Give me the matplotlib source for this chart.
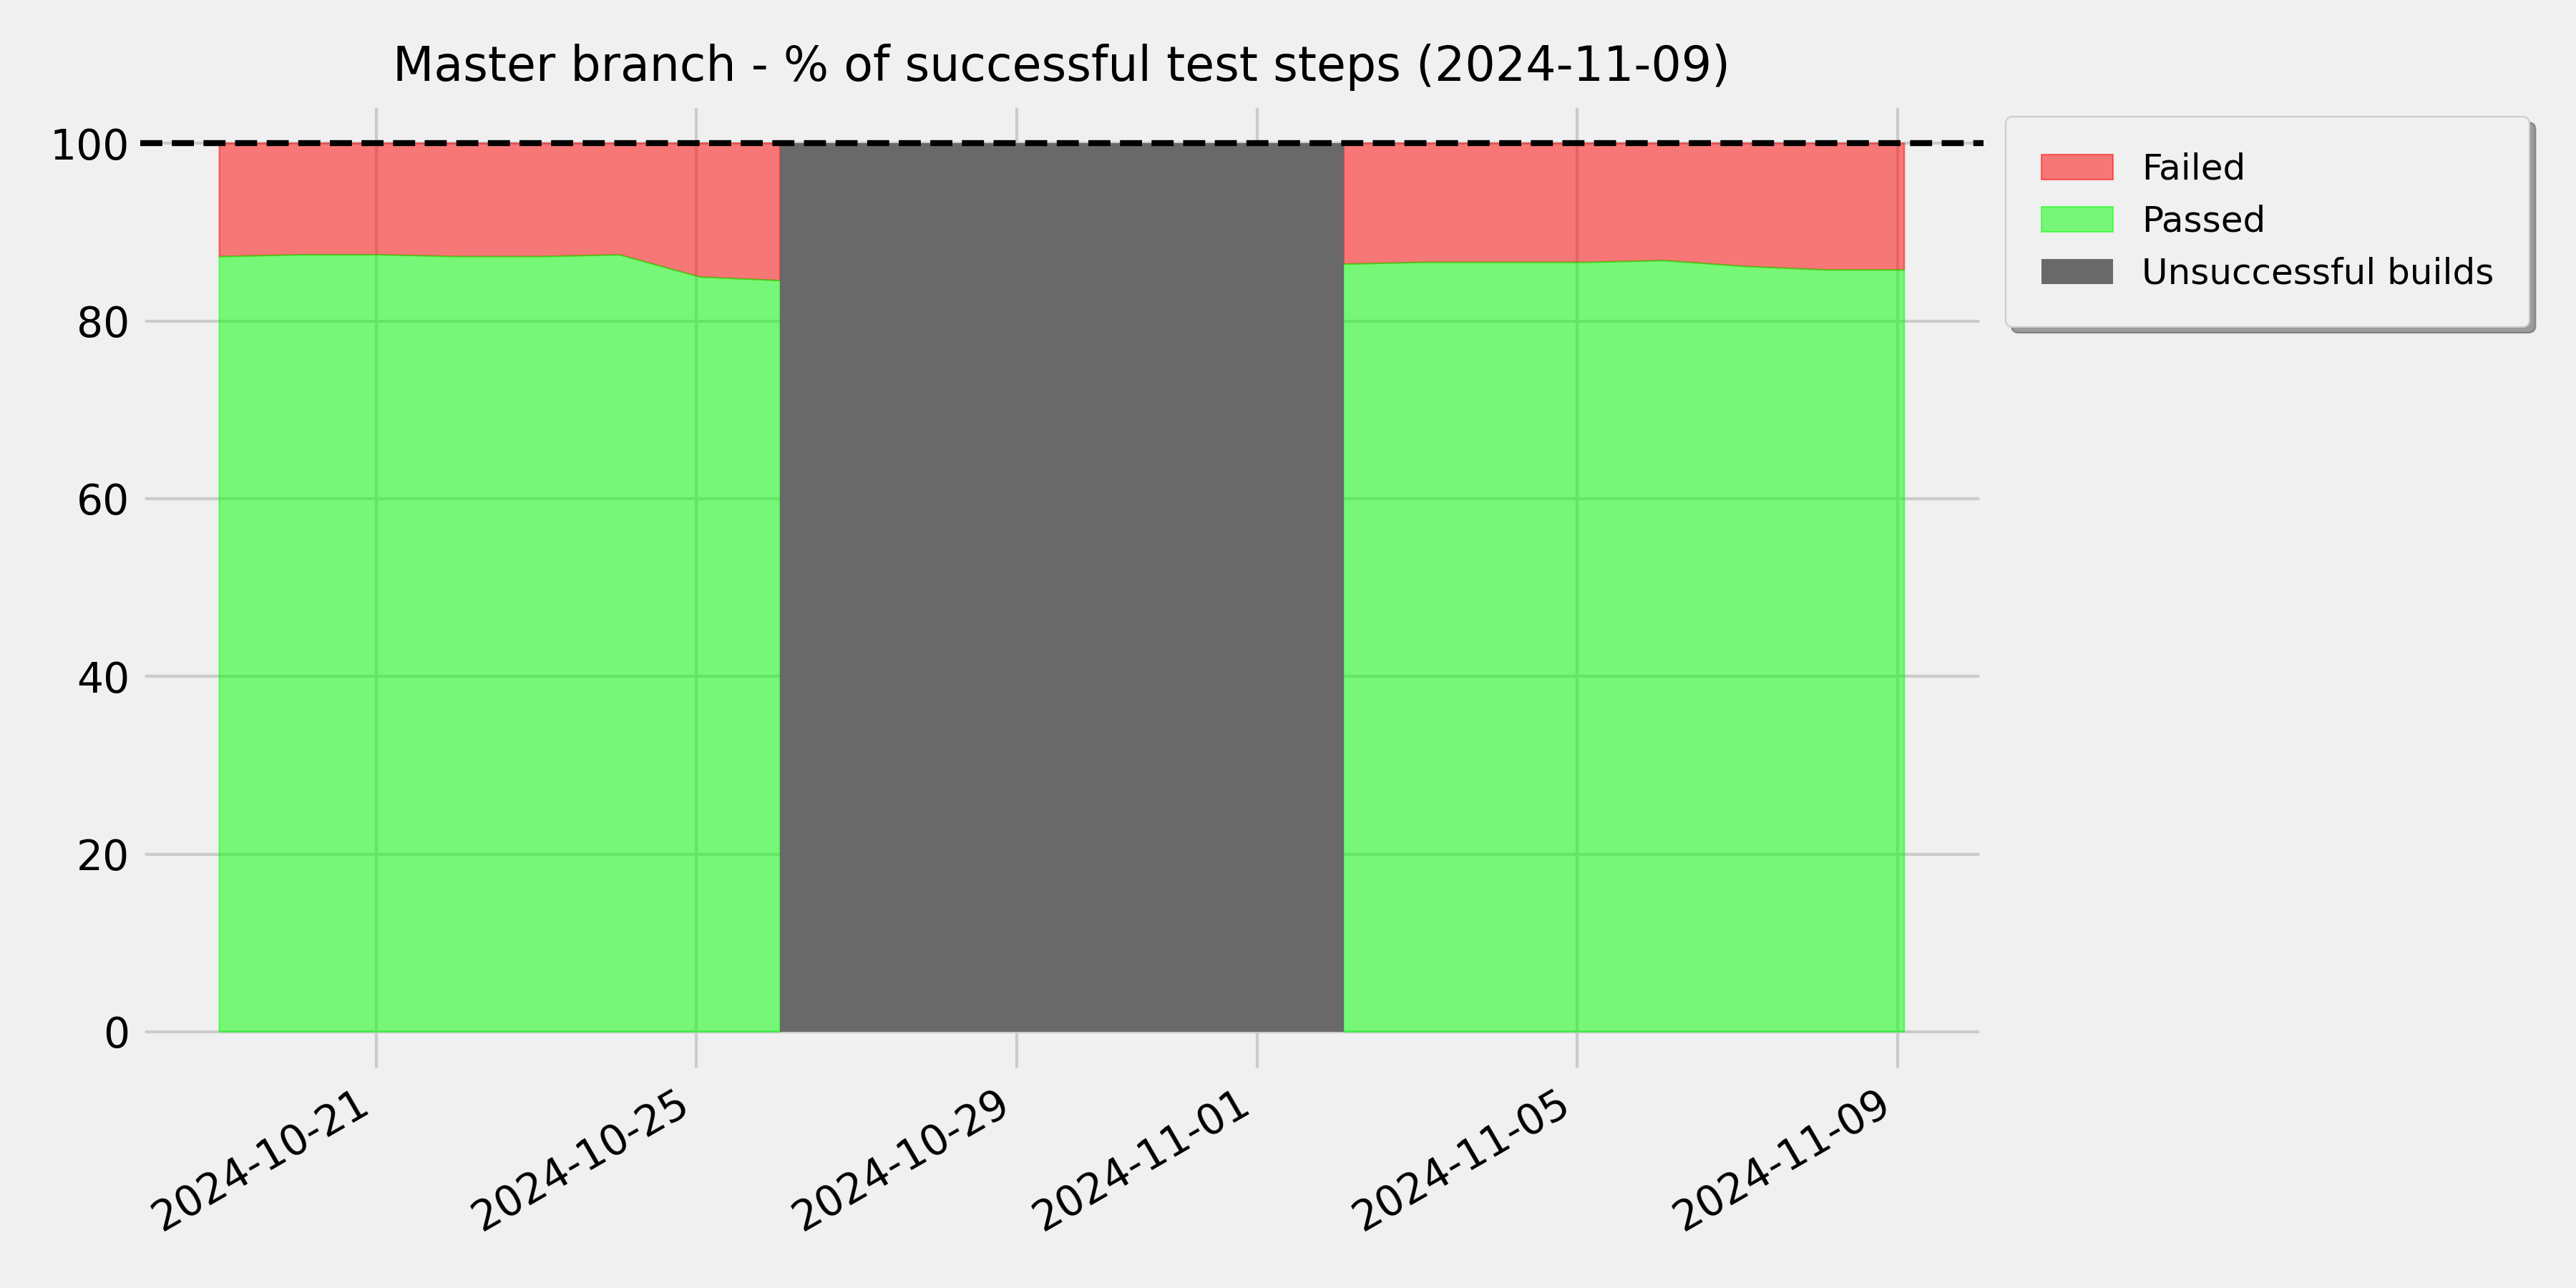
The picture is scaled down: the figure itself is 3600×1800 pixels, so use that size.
import numpy as np
import pandas as pd
import matplotlib
matplotlib.use("Agg")
import matplotlib.pyplot as plt
from matplotlib.patches import Patch

plt.style.use("fivethirtyeight")

# ---- data ----
dates = pd.to_datetime([
    "2024-10-19 01:00", "2024-10-20 01:00", "2024-10-21 01:00", "2024-10-22 01:00",
    "2024-10-23 01:00", "2024-10-24 01:00", "2024-10-25 01:00", "2024-10-26 01:00",
    "2024-10-27 01:00", "2024-10-28 01:00", "2024-10-29 01:00", "2024-10-30 01:00",
    "2024-10-31 01:00", "2024-11-01 02:00",
    "2024-11-02 02:00", "2024-11-03 02:00", "2024-11-04 02:00", "2024-11-05 02:00",
    "2024-11-06 02:00", "2024-11-07 02:00", "2024-11-08 02:00", "2024-11-09 02:00",
])
build_ok = [True, True, True, True, True, True, True, True,
            False, False, False, False, False, False,
            True, True, True, True, True, True, True, True]
passed = [87.25, 87.45, 87.45, 87.25, 87.25, 87.45, 84.95, 84.55,
          np.nan, np.nan, np.nan, np.nan, np.nan, np.nan,
          86.4, 86.6, 86.6, 86.6, 86.8, 86.15, 85.75, 85.75]
total = 100
title = "Master branch - % of successful test steps (2024-11-09)"
labels = ["Failed", "Passed", "Unsuccessful builds"]

# ---- plot ----
fig = plt.figure(figsize=(12, 6), dpi=300)
ax = fig.add_subplot(111)
fig.subplots_adjust(left=0.0544, right=0.770, top=0.9198, bottom=0.1679)

passed_arr = np.array(passed, dtype=float)
ok = np.array(build_ok)

ax.fill_between(dates, passed_arr, total, where=ok, color="red", alpha=0.5,
                linewidth=0.5, interpolate=False)
ax.fill_between(dates, 0, passed_arr, where=ok, color="lime", alpha=0.5,
                linewidth=0.5, interpolate=False)

# unsuccessful build periods: span from last good run to next good run
i = 0
n = len(build_ok)
while i < n:
    if not build_ok[i]:
        j = i
        while j < n and not build_ok[j]:
            j += 1
        start = dates[max(i - 1, 0)]
        end = dates[min(j, n - 1)]
        ax.fill_between([start, end], 0, total, color="dimgray", alpha=1.0,
                        linewidth=0, zorder=1.5)
        i = j
    else:
        i += 1

ax.axhline(total, color="black", linestyle="--", linewidth=2, zorder=3)

ax.margins(x=0.047, y=0.045)
ax.set_title(title, fontsize=16, pad=7.5)
ax.tick_params(axis="both", labelsize=14)
plt.setp(ax.get_xticklabels(), rotation=30, ha="right")

handles = [
    Patch(facecolor="red", edgecolor="red", alpha=0.5, linewidth=0.5),
    Patch(facecolor="lime", edgecolor="lime", alpha=0.5, linewidth=0.5),
    Patch(facecolor="dimgray", edgecolor="dimgray", linewidth=0),
]
ax.legend(handles, labels, loc="upper left", bbox_to_anchor=(1.0119, 0.9864),
          borderaxespad=0.0, borderpad=1.0,
          fontsize=12, shadow=True, fancybox=True)

fig.savefig("out.png", dpi=300)
